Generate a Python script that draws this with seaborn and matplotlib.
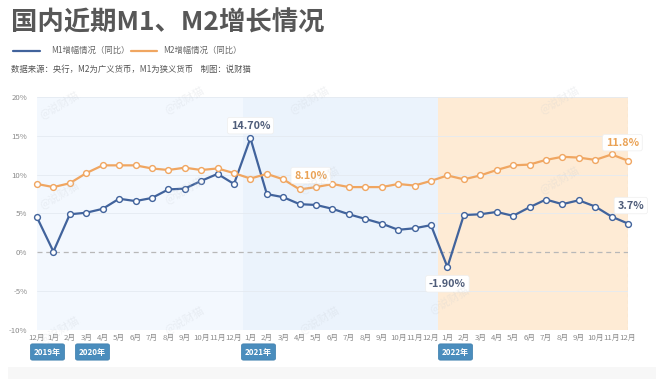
import matplotlib
matplotlib.use("Agg")
import matplotlib.pyplot as plt
import seaborn as sns
import pandas as pd
from matplotlib.lines import Line2D
from matplotlib.patches import Rectangle

# ---------------- data ----------------
month_labels = ["12月",
                "1月", "2月", "3月", "4月", "5月", "6月", "7月", "8月", "9月", "10月", "11月", "12月",
                "1月", "2月", "3月", "4月", "5月", "6月", "7月", "8月", "9月", "10月", "11月", "12月",
                "1月", "2月", "3月", "4月", "5月", "6月", "7月", "8月", "9月", "10月", "11月", "12月"]
year_labels = ["2019年", "2020年", "2021年", "2022年"]

m1 = [4.5,
      0.1, 4.9, 5.1, 5.6, 6.9, 6.6, 7.0, 8.1, 8.2, 9.2, 10.1, 8.8,
      14.7, 7.5, 7.1, 6.2, 6.1, 5.6, 4.9, 4.3, 3.7, 2.9, 3.1, 3.5,
      -1.9, 4.8, 4.9, 5.2, 4.7, 5.8, 6.8, 6.2, 6.7, 5.9, 4.6, 3.7]
m2 = [8.8,
      8.4, 8.9, 10.2, 11.2, 11.2, 11.2, 10.8, 10.6, 10.9, 10.6, 10.8, 10.2,
      9.5, 10.1, 9.4, 8.1, 8.4, 8.8, 8.4, 8.4, 8.4, 8.8, 8.6, 9.2,
      9.9, 9.4, 9.9, 10.6, 11.2, 11.3, 11.9, 12.3, 12.2, 11.9, 12.6, 11.8]

series_names = ["M1增幅情况（同比）", "M2增幅情况（同比）"]
colors = ["#41639c", "#f0a661"]

idx = list(range(len(month_labels)))
df = pd.DataFrame({
    "idx": idx * 2,
    "value": m1 + m2,
    "series": [series_names[0]] * len(m1) + [series_names[1]] * len(m2),
})

# ---------------- figure ----------------
sns.set_theme(style="white")
plt.rcParams["font.family"] = ["Noto Sans CJK SC", "DejaVu Sans"]

W, H = 660, 379
fig = plt.figure(figsize=(W / 100, H / 100), dpi=100)
fig.patch.set_facecolor("white")

def fx(px):
    return px / W

def fy(py):
    return 1 - py / H

# faint card shadow at bottom
fig.add_artist(Rectangle((fx(8), 0), fx(648), fy(367), transform=fig.transFigure,
                         facecolor="#f7f7f7", edgecolor="none", zorder=0))

ax = fig.add_axes([fx(37), fy(330), fx(628) - fx(37), fy(97) - fy(330)])
ax.set_facecolor("white")

# background bands
ax.axvspan(0, 12.55, color="#f3f8fe", zorder=0, lw=0)
ax.axvspan(12.55, 24.4, color="#ebf3fc", zorder=0, lw=0)
ax.axvspan(24.4, 36, color="#feebd5", zorder=0, lw=0)

# grid lines
for v in [-10, -5, 5, 10, 15, 20]:
    ax.axhline(v, color="#e4eaf1", lw=0.6, zorder=1)
ax.axhline(0, color="#b8b8b8", lw=0.9, ls=(0, (4, 3)), zorder=1)
ax.axvline(36, color="#d2b69c", lw=0.8, ls=(0, (3, 3)), zorder=1)

sns.lineplot(data=df, x="idx", y="value", hue="series", palette=colors,
             marker="o", markersize=4.2, markerfacecolor="white",
             markeredgewidth=1.0, linewidth=1.6, legend=False, ax=ax,
             zorder=3, clip_on=False)
for line, c in zip(ax.get_lines()[-2:], colors):
    line.set_markeredgecolor(c)
    line.set_clip_on(False)

ax.set_xlim(0, 36)
ax.set_ylim(-10, 20)
ax.set_xticks(idx)
ax.set_xticklabels(month_labels, fontsize=5.6, color="#8a8a8a")
ax.set_yticks([-10, -5, 0, 5, 10, 15, 20])
ax.set_yticklabels(["-10%", "-5%", "0%", "5%", "10%", "15%", "20%"],
                   fontsize=5.6, color="#8a8a8a")
ax.tick_params(axis="both", length=0, pad=3)
ax.tick_params(axis="y", pad=7)
ax.set_xlabel("")
ax.set_ylabel("")
for s in ax.spines.values():
    s.set_visible(False)

# annotations
def label(x, y, text, color, dx=0, dy=0):
    ax.annotate(text, (x, y), xytext=(dx, dy), textcoords="offset points",
                ha="center", va="center", fontsize=7.8, fontweight="bold", color=color,
                bbox=dict(boxstyle="round,pad=0.3,rounding_size=0.2", fc="white",
                          ec="#eeeeee", lw=0.5), zorder=6)

label(13, m1[13], "14.70%", "#4f5d7a", dx=0, dy=9)
label(16, m2[16], "8.10%", "#eaa255", dx=8, dy=10)
label(25, m1[25], "-1.90%", "#4f5d7a", dx=0, dy=-12)
label(36, m2[36], "11.8%", "#eaa255", dx=-4, dy=13)
label(36, m1[36], "3.7%", "#4f5d7a", dx=2, dy=13)

# title / legend / source
fig.text(fx(11), fy(23), "国内近期M1、M2增长情况", fontsize=19, fontweight="bold",
         color="#575757", ha="left", va="center")
fig.add_artist(Line2D([fx(13), fx(40)], [fy(50.5), fy(50.5)], color=colors[0], lw=1.6,
                      transform=fig.transFigure))
fig.text(fx(51), fy(50.5), series_names[0], fontsize=6, color="#666666", ha="left", va="center")
fig.add_artist(Line2D([fx(131), fx(157)], [fy(50.5), fy(50.5)], color=colors[1], lw=1.6,
                      transform=fig.transFigure))
fig.text(fx(163), fy(50.5), series_names[1], fontsize=6, color="#666666", ha="left", va="center")
fig.text(fx(11), fy(69), "数据来源：央行，M2为广义货币，M1为狭义货币    制图：说财猫",
         fontsize=6, color="#555555", ha="left", va="center")

# year badges
for yl, cx in zip(year_labels, [47.5, 92.5, 258.5, 455.5]):
    fig.text(fx(cx), fy(352), yl, fontsize=5.8, fontweight="bold", color="white",
             ha="center", va="center",
             bbox=dict(boxstyle="round,pad=0.45,rounding_size=0.25", fc="#4a8dbd",
                       ec="#3f7fae", lw=0.5))

# faint watermarks
for (wx, wy) in [(60, 105), (185, 100), (310, 100), (560, 100),
                 (60, 195), (185, 190), (320, 180), (560, 180),
                 (60, 330), (185, 320), (320, 320), (450, 300)]:
    fig.text(fx(wx), fy(wy), "@说财猫", fontsize=8, color="#c8cdd4", alpha=0.25,
             rotation=30, ha="center", va="center")

fig.savefig("out.png", dpi=100, facecolor="white")
